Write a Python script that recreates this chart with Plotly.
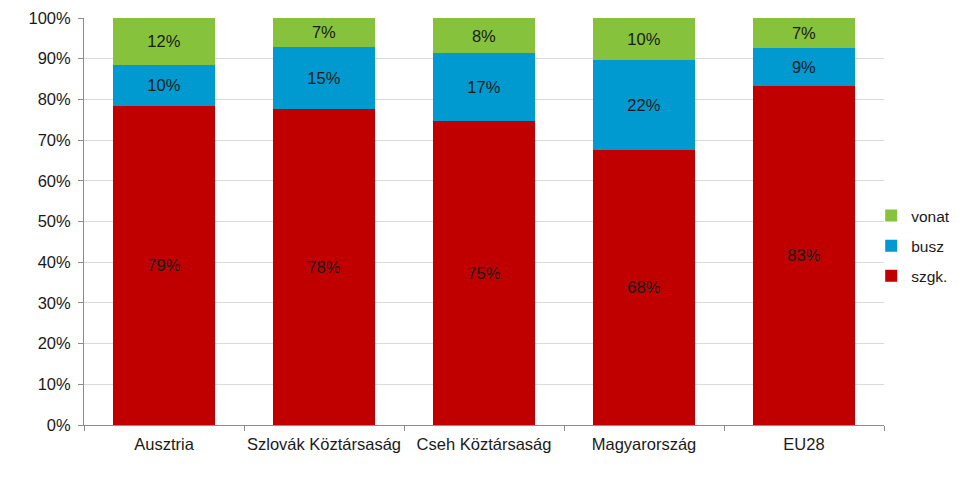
import plotly.graph_objects as go

countries = ["Ausztria", "Szlovák Köztársaság", "Cseh Köztársaság", "Magyarország", "EU28"]

# shares (percent)
szgk = [78.4, 77.6, 74.7, 67.6, 83.3]
busz = [10.1, 15.3, 16.7, 22.1, 9.3]
vonat = [11.5, 7.1, 8.6, 10.3, 7.4]

szgk_labels = ["79%", "78%", "75%", "68%", "83%"]
busz_labels = ["10%", "15%", "17%", "22%", "9%"]
vonat_labels = ["12%", "7%", "8%", "10%", "7%"]

y_ticks = [0, 10, 20, 30, 40, 50, 60, 70, 80, 90, 100]

font_main = "Liberation Sans, Arial, sans-serif"

fig = go.Figure()

# (name, values, labels, colour, legend rank) - stacked bottom to top
series = [
    ("szgk.", szgk, szgk_labels, "#C00000", 3),
    ("busz", busz, busz_labels, "#0099D0", 2),
    ("vonat", vonat, vonat_labels, "#86C23C", 1),
]

for name, vals, labels, color, rank in series:
    fig.add_trace(go.Bar(
        x=countries,
        y=vals,
        name=name,
        legendgroup=name,
        legendrank=rank,
        text=labels,
        textposition="inside",
        insidetextanchor="middle",
        textangle=0,
        textfont=dict(color="#1a1a1a", size=16.5, family=font_main),
        marker=dict(color=color, line=dict(width=0)),
        hoverinfo="skip",
    ))

# page body adds ~8px offset, margins are compensated for that
fig.update_layout(
    barmode="stack",
    bargap=0.36,
    width=960,
    height=487,
    margin=dict(l=76, r=84, t=10, b=70),
    plot_bgcolor="white",
    paper_bgcolor="white",
    font=dict(family=font_main, size=16.5, color="#1a1a1a"),
    legend=dict(
        x=0.984, xanchor="left",
        y=0.44, yanchor="middle",
        traceorder="grouped",
        tracegroupgap=7,
        font=dict(size=15.5),
        bgcolor="rgba(0,0,0,0)",
    ),
    xaxis=dict(
        showline=True,
        linecolor="#8c8c8c",
        linewidth=1,
        ticks="outside",
        tickson="boundaries",
        ticklen=5,
        tickcolor="#8c8c8c",
        tickangle=0,
        ticklabelstandoff=4,
        showgrid=False,
        automargin=False,
    ),
    yaxis=dict(
        range=[0, 100],
        tickvals=y_ticks,
        ticktext=[f"{v}%" for v in y_ticks],
        showline=True,
        linecolor="#8c8c8c",
        linewidth=1,
        ticks="outside",
        ticklen=5,
        tickcolor="#8c8c8c",
        ticklabelstandoff=4,
        showgrid=True,
        gridcolor="#d9d9d9",
        gridwidth=1,
        zeroline=False,
        automargin=False,
    ),
)

fig.write_html("out.html")
